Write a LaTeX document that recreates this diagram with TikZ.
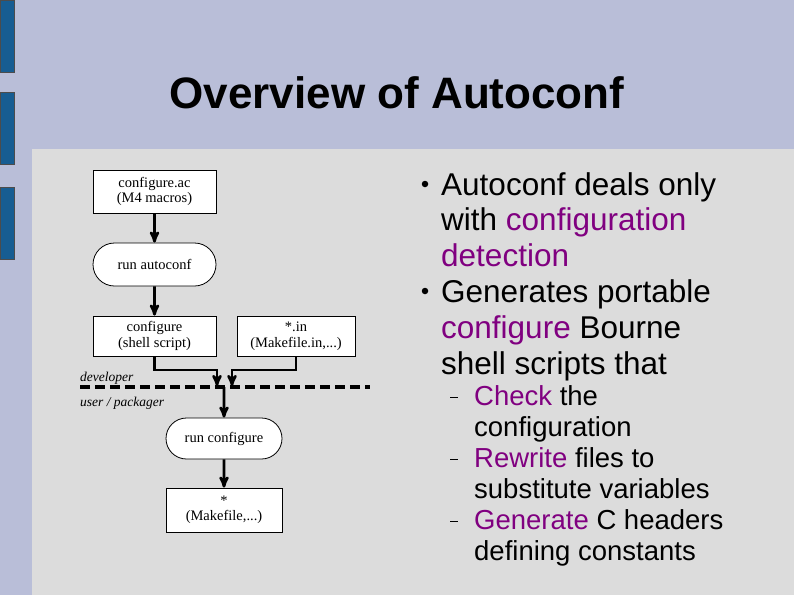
\documentclass[tikz,border=0pt]{standalone}
\usepackage{fontspec}
\setmainfont{Liberation Sans}
\newfontfamily\flowfont{Liberation Serif}
\usetikzlibrary{arrows,positioning,shapes.misc}
\definecolor{slidebg}{HTML}{B9BED8}
\definecolor{panelbg}{HTML}{DCDCDC}
\definecolor{barblue}{HTML}{175D92}
\definecolor{keyword}{HTML}{800080}
\tikzset{
  filebox/.style={draw,fill=white,thick,minimum width=123pt,minimum height=43pt,
    align=center,font=\flowfont\fontsize{14.5}{15.5}\selectfont,inner sep=0pt},
  runbox/.style={filebox,rounded rectangle},
  flow/.style={->,>=stealth',line width=2.6pt},
  bigtext/.style={anchor=base west,font=\fontsize{31.5}{33}\selectfont,inner sep=0pt},
  subtext/.style={anchor=base west,font=\fontsize{27.5}{29}\selectfont,inner sep=0pt},
  dot/.style={circle,fill,inner sep=0pt,minimum size=6.5pt},
}
\begin{document}
\begin{tikzpicture}[x=1pt,y=-1pt]
  \useasboundingbox (0,0) rectangle (794,595);
  \fill[slidebg] (0,0) rectangle (794,595);
  \fill[panelbg] (32,149) rectangle (794,595);
  \foreach \top in {0,92,187}
    \draw[fill=barblue,draw=black!70] (0,\top) rectangle (14,\top+72);

  \node[font=\bfseries\fontsize{44}{48}\selectfont] (title) at (397,93) {Overview of Autoconf};

  % flow chart
  \node[filebox] (ac)    at (154.5,191.5) {configure.ac\\(M4 macros)};
  \node[runbox]  (runac) at (154.5,264.5) {run autoconf};
  \node[filebox,minimum height=40pt] (conf) at (154.5,336) {configure\\(shell script)};
  \node[filebox,minimum width=118pt,minimum height=40pt] (in) at (296,336) {*.in\\(Makefile.in,...)};
  \node[runbox,minimum width=116pt,minimum height=41pt] (runconf) at (224,438.5) {run configure};
  \node[filebox,minimum width=116pt,minimum height=44pt] (out) at (224,510) {*\\(Makefile,...)};

  \coordinate (split) at (224,387);
  \draw[line width=3.5pt,dash pattern=on 10pt off 5pt] (80,387) -- (370,387);
  \node[anchor=base west,font=\flowfont\itshape\fontsize{13.5}{14}\selectfont,inner sep=0pt] (dev) at (80,381) {developer};
  \node[anchor=base west,font=\flowfont\itshape\fontsize{13.5}{14}\selectfont,inner sep=0pt] (user) at (80,406) {user / packager};

  \draw[flow] (ac) -- (runac);
  \draw[flow] (runac) -- (conf);
  \draw[flow] (conf.south) |- (217,370) -- (217,386);
  \draw[flow] (in.south) |- (232,370) -- (232,386);
  \draw[flow] (split) -- (runconf);
  \draw[flow] (runconf) -- (out);

  % bullet text
  \node[dot] (d1) at (425,184) {};
  \node[dot] (d2) at (425,291) {};
  \node[bigtext] (b1) at (441,195) {Autoconf deals only};
  \node[bigtext] at (441,230) {with \textcolor{keyword}{configuration}};
  \node[bigtext] at (441,266) {\textcolor{keyword}{detection}};
  \node[bigtext] (b2) at (441,302) {Generates portable};
  \node[bigtext] at (441,338) {\textcolor{keyword}{configure} Bourne};
  \node[bigtext] at (441,374) {shell scripts that};
  \foreach \y in {396,458,520}
    \draw[thick] (450,\y+1) -- (458,\y+1);
  \node[subtext] at (474,405) {\textcolor{keyword}{Check} the};
  \node[subtext] at (474,436) {configuration};
  \node[subtext] at (474,467) {\textcolor{keyword}{Rewrite} files to};
  \node[subtext] at (474,498) {substitute variables};
  \node[subtext] at (474,529) {\textcolor{keyword}{Generate} C headers};
  \node[subtext] at (474,560) {defining constants};
\end{tikzpicture}
\end{document}
